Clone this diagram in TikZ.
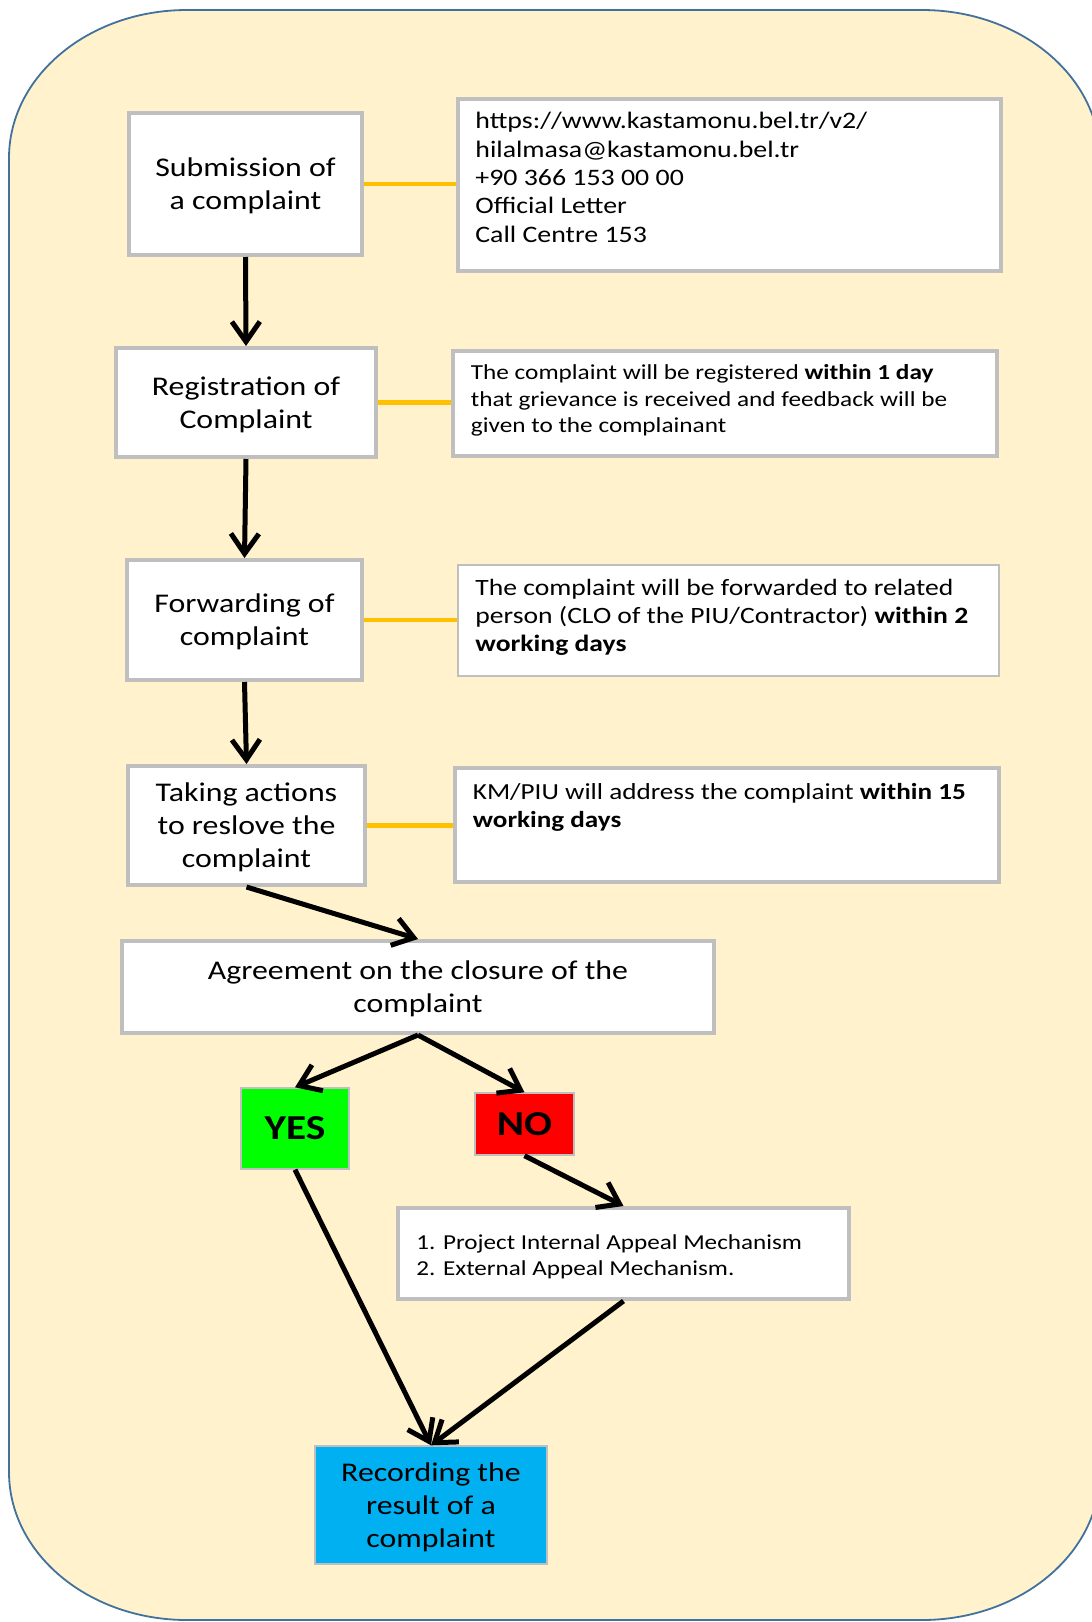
\documentclass[tikz,border=0pt]{standalone}
\usepackage{fontspec}
\setmainfont{Carlito}[FakeStretch=1.18]
\usetikzlibrary{arrows.meta}
\definecolor{boxgray}{HTML}{BFBFBF}
\definecolor{linkyellow}{HTML}{FFC000}
\definecolor{bgfill}{HTML}{FFF2CC}
\definecolor{outline}{HTML}{41719C}
\definecolor{yesgreen}{HTML}{00FF00}
\definecolor{nored}{HTML}{FF0000}
\definecolor{recblue}{HTML}{00B0F0}
\newcommand\mainfs{\fontsize{13.5}{16.5}\selectfont}
\begin{document}
\begin{tikzpicture}[x=0.5pt,y=-0.5pt,
  stepbox/.style={draw=boxgray, line width=2pt, fill=white, align=center, font=\mainfs, inner sep=0pt, text depth=-1.2pt},
  infobox/.style={draw=boxgray, line width=2pt, fill=white, inner sep=0pt},
  infotext/.style={anchor=north west, align=left, inner sep=0pt},
  smallbox/.style={draw=boxgray, line width=0.7pt, inner sep=0pt, align=center},
  flow/.style={line width=2.5pt, draw=black, -{Straight Barb[length=10pt,width=14pt]}},
  link/.style={line width=2.4pt, draw=linkyellow}]
\useasboundingbox (0,0) rectangle (1092,1622);
% background shape
\draw[fill=bgfill, draw=outline, line width=0.9pt]
  (187,10) -- (922,10) arc[start angle=-90, end angle=0, x radius=178, y radius=148]
  -- (1100,1472) arc[start angle=0, end angle=90, x radius=178, y radius=148]
  -- (187,1620) arc[start angle=90, end angle=180, x radius=178, y radius=148]
  -- (9,158) arc[start angle=180, end angle=270, x radius=178, y radius=148] -- cycle;

% left column
\node[stepbox, minimum width=116.5pt, minimum height=71pt] (sub) at (245.5,184) {Submission of\\a complaint};
\node[stepbox, minimum width=130pt, minimum height=54.5pt] (reg) at (246,402.5) {Registration of\\Complaint};
\node[stepbox, minimum width=117.5pt, minimum height=60pt] (fwd) at (244.5,620) {Forwarding of\\complaint};
\node[stepbox, minimum width=118.5pt, minimum height=59.5pt] (take) at (246.5,825.5) {Taking actions\\to reslove the\\complaint};
\node[stepbox, minimum width=296pt, minimum height=46pt] (agree) at (418,987) {Agreement on the closure of the\\complaint};

% info boxes
\node[infobox, minimum width=271.5pt, minimum height=86pt] (contact) at (729.5,185) {};
\node[infotext, font=\fontsize{11.8}{14.2}\selectfont] (contacttxt) at (475,112)
  {https://www.kastamonu.bel.tr/v2/\\hilalmasa@kastamonu.bel.tr\\+90 366 153 00 00\\Official Letter\\Call Centre\ 153};
\node[infobox, minimum width=272pt, minimum height=52.5pt] (reginfo) at (725,403.5) {};
\node[infotext, font=\fontsize{10.7}{13.3}\selectfont] (reginfotxt) at (470.5,364)
  {The complaint will be registered \textbf{within 1 day}\\that grievance is received and feedback will be\\given to the complainant};
\node[infobox, line width=1pt, minimum width=270.5pt, minimum height=55.5pt] (fwdinfo) at (728.5,620.5) {};
\node[infotext, font=\fontsize{11.7}{13.9}\selectfont] (fwdinfotxt) at (475,579)
  {The complaint will be forwarded to related\\person (CLO of the PIU/Contractor) \textbf{within 2}\\\textbf{working days}};
\node[infobox, minimum width=272pt, minimum height=57pt] (kminfo) at (727,825) {};
\node[infotext, font=\fontsize{11.5}{14}\selectfont] (kminfotxt) at (472.5,783)
  {KM/PIU will address the complaint \textbf{within 15}\\\textbf{working days}};

% decision
\node[smallbox, fill=yesgreen, minimum width=54pt, minimum height=40.5pt, font=\fontsize{17.5}{20}\selectfont\bfseries] (yes) at (295,1128.5) {YES};
\node[smallbox, fill=nored, minimum width=49.5pt, minimum height=31pt, font=\fontsize{17.5}{20}\selectfont\bfseries] (no) at (524.5,1124) {NO};
\node[infobox, minimum width=225.5pt, minimum height=45.5pt] (appeal) at (623.5,1253.5) {};
\node[infotext, font=\fontsize{10.65}{13}\selectfont] (appealtxt) at (416,1234)
  {1. Project Internal Appeal Mechanism\\2. External Appeal Mechanism.};
\node[smallbox, fill=recblue, font=\mainfs, text depth=-1.2pt, minimum width=116pt, minimum height=59pt] (rec) at (431,1505) {Recording the\\result of a\\complaint};

% yellow links
\draw[link] (sub.east) -- (contact.west |- sub.east);
\draw[link] (reg.east) -- (reginfo.west |- reg.east);
\draw[link] (fwd.east) -- (fwdinfo.west |- fwd.east);
\draw[link] (take.east) -- (kminfo.west |- take.east);

% flow arrows
\draw[flow] (sub.south) -- (reg.north);
\draw[flow] (reg.south) -- (fwd.north);
\draw[flow] (fwd.south) -- (take.north);
\draw[flow] (take.south) -- (agree.north);
\draw[flow] (agree.south) -- (yes.north);
\draw[flow] (agree.south) -- (no.north);
\draw[flow] (no.south) -- (appeal.north);
\draw[flow] (yes.south) -- (rec.north);
\draw[flow] (appeal.south) -- (rec.north);
\end{tikzpicture}
\end{document}
